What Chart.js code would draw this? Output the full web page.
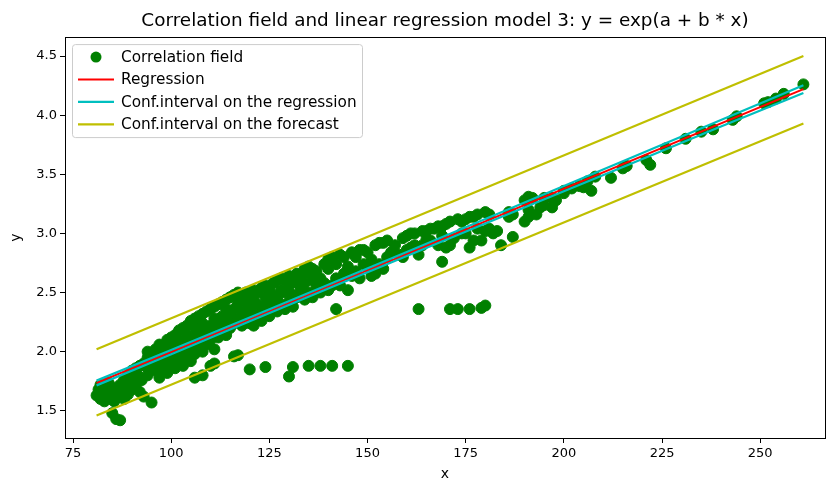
<!DOCTYPE html>
<html>
<head>
<meta charset="utf-8">
<script src="https://cdn.jsdelivr.net/npm/chart.js@4.4.0/dist/chart.umd.min.js"></script>
<style>
  html, body { margin: 0; padding: 0; background: #fff; }
</style>
</head>
<body>
<canvas id="myChart" width="826" height="481"></canvas>
<script>
// correlation field: [x, y]
const fieldXY = [
  [81,1.63],[81.5,1.68],[82,1.60],[82,1.72],[82.5,1.65],[83,1.58],[83,1.69],[83.5,1.62],
  [84,1.66],[84,1.74],[84.5,1.60],[85,1.48],[85,1.64],[85,1.70],[85.5,1.58],[86,1.43],
  [86,1.67],[86.5,1.62],[87,1.42],[87,1.72],[87.5,1.66],[88,1.60],[88,1.76],[88.5,1.70],
  [89,1.64],[89,1.80],[89.5,1.74],[90,1.68],[90,1.84],[90.5,1.78],[91,1.72],[91,1.86],
  [91.5,1.80],[92,1.66],[92,1.88],[92.5,1.76],[93,1.62],[93,1.90],
  [94,1.80],[94,1.86],[94,1.95],[94,2.00],[95,1.57],[95,1.88],[95,1.97],
  [96,1.84],[96,1.93],[96,2.02],[97,1.78],[97,1.90],[97,2.00],[97,2.06],
  [98,1.86],[98,1.96],[98,2.04],[99,1.82],[99,1.92],[99,2.02],[99,2.10],
  [100,1.88],[100,1.96],[100,2.06],[100,2.12],[101,1.86],[101,1.94],[101,2.04],[101,2.14],
  [102,1.92],[102,2.00],[102,2.10],[102,2.18],[103,1.88],[103,1.98],[103,2.08],[103,2.20],
  [104,1.94],[104,2.04],[104,2.14],[104,2.22],[105,1.92],[105,2.02],[105,2.12],[105,2.26],
  [106,1.78],[106,1.98],[106,2.10],[106,2.20],[106,2.28],[107,2.04],[107,2.16],[107,2.30],
  [108,1.80],[108,2.00],[108,2.12],[108,2.24],[108,2.32],[109,2.06],[109,2.18],[109,2.34],
  [110,1.88],[110,2.10],[110,2.22],[110,2.36],[111,1.90],[111,2.02],[111,2.16],[111,2.28],[111,2.38],
  [112,2.12],[112,2.24],[112,2.40],[113,2.18],[113,2.30],[113,2.42],
  [114,2.14],[114,2.26],[114,2.36],[114,2.44],[115,2.20],[115,2.32],[115,2.46],
  [116,1.96],[116,2.24],[116,2.36],[116,2.48],[117,1.97],[117,2.28],[117,2.40],[117,2.50],
  [118,2.22],[118,2.34],[118,2.44],[119,2.30],[119,2.42],[119,2.50],
  [120,1.85],[120,2.24],[120,2.36],[120,2.48],[121,2.22],[121,2.32],[121,2.44],[121,2.52],
  [122,2.30],[122,2.40],[122,2.50],[123,2.26],[123,2.38],[123,2.54],
  [124,1.87],[124,2.34],[124,2.46],[124,2.56],[125,2.30],[125,2.42],[125,2.52],
  [126,2.38],[126,2.48],[126,2.58],[127,2.34],[127,2.46],[127,2.60],
  [128,2.40],[128,2.52],[128,2.62],[129,2.36],[129,2.50],[129,2.60],
  [130,1.79],[130,2.42],[130,2.56],[130,2.64],[131,1.87],[131,2.38],[131,2.48],[131,2.62],
  [132,2.46],[132,2.58],[132,2.66],[133,2.52],[133,2.64],
  [134,2.44],[134,2.58],[134,2.70],[135,1.88],[135,2.50],[135,2.66],[135,2.72],
  [136,2.46],[136,2.60],[136,2.70],[137,2.54],[137,2.68],[138,1.88],[138,2.50],[138,2.62],
  [139,2.58],[139,2.74],[140,2.52],[140,2.70],[140,2.78],[141,1.88],[141,2.56],[141,2.80],
  [142,2.36],[142,2.62],[142,2.74],[143,2.56],[143,2.82],[144,2.66],[144,2.80],
  [145,1.88],[145,2.52],[145,2.72],[146,2.64],[146,2.84],[147,2.68],[147,2.80],
  [148,2.62],[148,2.86],[149,2.74],[149,2.86],[150,2.72],[150,2.84],[151,2.64],[151,2.78],
  [152,2.66],[152,2.90],[153,2.74],[153,2.92],[154,2.70],[154,2.92],[155,2.80],[155,2.94],
  [156,2.84],[157,2.90],[158,2.82],[159,2.80],[159,2.96],[160,2.86],[160,2.98],
  [161,2.88],[161,3.00],[162,2.90],[162,3.00],[163,2.36],[163,2.82],[164,2.90],[164,3.02],
  [165,2.95],[165,3.02],[166,2.94],[166,3.04],[167,3.04],[168,2.90],[168,3.06],
  [169,2.76],[169,2.98],[169,3.06],[170,2.88],[170,3.08],[171,2.36],[171,2.90],[171,3.10],
  [172,2.96],[173,2.36],[173,3.12],[174,3.00],[174,3.10],[175,3.00],[175,3.12],
  [176,2.36],[176,2.88],[176,3.14],[177,2.94],[177,3.14],[178,3.04],[178,3.16],
  [179,2.37],[179,2.94],[180,2.39],[180,3.02],[180,3.18],[181,3.04],[181,3.16],
  [182,3.00],[183,3.02],[184,2.90],[186,3.14],[186,3.18],[187,2.97],[187,3.16],
  [190,3.10],[190,3.28],[191,3.14],[191,3.20],[191,3.31],[192,3.30],[193,3.16],
  [194,3.22],[195,3.24],[195,3.30],[197,3.22],[197,3.30],[198,3.28],[200,3.34],[200,3.36],
  [202,3.38],[204,3.40],[205,3.39],[206,3.44],[207,3.36],[208,3.48],[212,3.47],
  [215,3.55],[216,3.57],[221,3.62],[222,3.58],[226,3.72],[231,3.80],[235,3.86],
  [238,3.88],[243,3.96],[244,3.99],[251,4.10],[252,4.11],[254,4.14],[256,4.18],[261,4.26]
];

// regression and forecast lines
const lineX = [81, 261];
const regY = [1.735, 4.22];
const foreUpY = [2.02, 4.50];
const foreLoY = [1.46, 3.93];

// confidence interval on the regression
const confX = [81, 100, 120, 140, 160, 180, 200, 220, 240, 261];
const confUpY = [1.755, 2.015, 2.289, 2.566, 2.843, 3.121, 3.400, 3.680, 3.959, 4.252];
const confLoY = [1.715, 1.979, 2.257, 2.534, 2.809, 3.083, 3.356, 3.630, 3.903, 4.188];

const xTicks = [75, 100, 125, 150, 175, 200, 225, 250];
const yTicks = [1.5, 2.0, 2.5, 3.0, 3.5, 4.0, 4.5];

const toPts = (xs, ys) => xs.map((x, i) => ({ x: x, y: ys[i] }));

const data = {
  datasets: [
    {
      label: "Correlation field",
      data: fieldXY.map(p => ({ x: p[0], y: p[1] })),
      backgroundColor: "#008000",
      borderColor: "#008000",
      pointRadius: 5.5,
      showLine: false,
      order: 4,
      inLegend: "dot",
    },
    {
      label: "Regression",
      data: toPts(lineX, regY),
      borderColor: "#ff0000",
      borderWidth: 2,
      showLine: true,
      pointRadius: 0,
      order: 3,
      inLegend: "line",
    },
    {
      label: "Conf.interval on the regression",
      data: toPts(confX, confUpY),
      borderColor: "#00bfbf",
      borderWidth: 2.2,
      showLine: true,
      pointRadius: 0,
      order: 2,
      inLegend: "line",
    },
    {
      label: "Conf.interval on the regression (lower)",
      data: toPts(confX, confLoY),
      borderColor: "#00bfbf",
      borderWidth: 2.2,
      showLine: true,
      pointRadius: 0,
      order: 2,
    },
    {
      label: "Conf.interval on the forecast",
      data: toPts(lineX, foreUpY),
      borderColor: "#bfbf00",
      borderWidth: 2.2,
      showLine: true,
      pointRadius: 0,
      order: 1,
      inLegend: "line",
    },
    {
      label: "Conf.interval on the forecast (lower)",
      data: toPts(lineX, foreLoY),
      borderColor: "#bfbf00",
      borderWidth: 2.2,
      showLine: true,
      pointRadius: 0,
      order: 1,
    },
  ],
};

// frame + legend box drawn like matplotlib
const frameLegend = {
  id: "frameLegend",
  afterDraw(chart) {
    const ctx = chart.ctx;
    const a = chart.chartArea;
    ctx.save();
    ctx.strokeStyle = "#000";
    ctx.lineWidth = 1;
    ctx.strokeRect(Math.round(a.left) + 0.5, Math.round(a.top) + 0.5,
      Math.round(a.right - a.left), Math.round(a.bottom - a.top));

    const x0 = a.left + 7, y0 = a.top + 7, w = 290, h = 93;
    ctx.fillStyle = "rgba(255,255,255,0.8)";
    ctx.strokeStyle = "#cccccc";
    ctx.beginPath();
    ctx.roundRect(x0 + 0.5, y0 + 0.5, w, h, 3);
    ctx.fill();
    ctx.stroke();

    ctx.font = "15.3px 'DejaVu Sans'";
    ctx.textBaseline = "middle";
    let row = 0;
    chart.data.datasets.forEach(ds => {
      if (!ds.inLegend) return;
      const cy = y0 + 13 + row * 22.4;
      if (ds.inLegend == "dot") {
        ctx.fillStyle = ds.backgroundColor;
        ctx.beginPath();
        ctx.arc(x0 + 24, cy, 5.5, 0, Math.PI * 2);
        ctx.fill();
      } else {
        ctx.strokeStyle = ds.borderColor;
        ctx.lineWidth = ds.borderWidth;
        ctx.beginPath();
        ctx.moveTo(x0 + 6, cy);
        ctx.lineTo(x0 + 42, cy);
        ctx.stroke();
      }
      ctx.fillStyle = "#000";
      ctx.fillText(ds.label, x0 + 49, cy + 1);
      row++;
    });
    ctx.restore();
  },
};

const config = {
  type: "scatter",
  data: data,
  options: {
    responsive: false,
    animation: false,
    devicePixelRatio: 1,
    layout: { autoPadding: false, padding: { left: 0, right: 1, top: 0, bottom: 0 } },
    plugins: {
      legend: { display: false },
      tooltip: { enabled: false },
      title: {
        display: true,
        fullSize: false,
        text: "Correlation field and linear regression model 3: y = exp(a + b * x)",
        color: "#000",
        font: { family: "'DejaVu Sans'", size: 18.4, weight: "normal", lineHeight: 1.2 },
        padding: { top: 10, bottom: 5 },
      },
    },
    scales: {
      x: {
        type: "linear",
        min: 72.96,
        max: 266.5,
        afterBuildTicks: (axis) => { axis.ticks = xTicks.map(v => ({ value: v })); },
        afterFit: (axis) => { axis.height = 43; axis.paddingLeft = 0; axis.paddingRight = 0; },
        grid: { display: true, drawOnChartArea: false, drawTicks: true, tickLength: 5, color: "#000" },
        border: { display: true, color: "#000" },
        ticks: { color: "#000", font: { family: "'DejaVu Sans'", size: 13 }, padding: 3, maxRotation: 0 },
        title: { display: true, text: "x", color: "#000", font: { family: "'DejaVu Sans'", size: 14, lineHeight: 0.9 }, padding: { top: 0, bottom: 0 } },
      },
      y: {
        type: "linear",
        min: 1.27,
        max: 4.66,
        afterBuildTicks: (axis) => { axis.ticks = yTicks.map(v => ({ value: v })); },
        afterFit: (axis) => { axis.width = 65; },
        grid: { display: true, drawOnChartArea: false, drawTicks: true, tickLength: 5, color: "#000" },
        border: { display: true, color: "#000" },
        ticks: { color: "#000", font: { family: "'DejaVu Sans'", size: 13 }, padding: 3, callback: (v) => v.toFixed(1) },
        title: { display: true, text: "y", color: "#000", font: { family: "'DejaVu Sans'", size: 14 }, padding: { top: 8, bottom: 8 } },
      },
    },
  },
  plugins: [frameLegend],
};

const context = document.getElementById("myChart").getContext("2d");
const chart = new Chart(context, config);
</script>
</body>
</html>
